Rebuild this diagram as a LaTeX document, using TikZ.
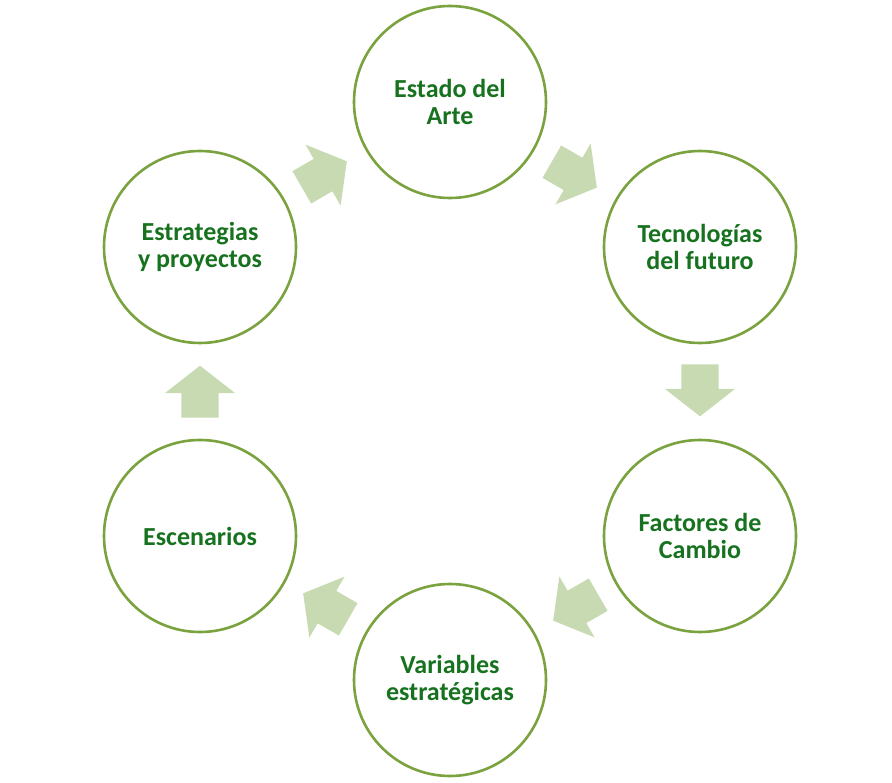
\documentclass[tikz,border=0pt]{standalone}
\usepackage{fontspec}
\setmainfont{Carlito}
\usetikzlibrary{shapes.arrows}
\definecolor{ringgreen}{RGB}{122,162,62}
\definecolor{textgreen}{RGB}{22,114,30}
\definecolor{arrowgreen}{RGB}{200,218,178}
\begin{document}
\begin{tikzpicture}[x=1pt, y=-1pt,
  stage/.style={circle, draw=ringgreen, line width=2.6pt, minimum size=192pt, inner sep=0pt,
    align=center, text=textgreen, font=\fontsize{26}{27}\selectfont\bfseries},
  flow/.style={single arrow, fill=arrowgreen, draw=none, inner xsep=0pt, inner ysep=18.5pt,
    minimum height=52pt, single arrow head extend=16.5pt,
    single arrow tip angle=104}]
\useasboundingbox (0,0) rectangle (892,783);

% the six stages of the cycle
\node[stage] (arte) at (450,102) {Estado del\\Arte};
\node[stage] (futuro) at (700,247) {Tecnologías\\del futuro};
\node[stage] (cambio) at (700,536) {Factores de\\Cambio};
\node[stage] (variables) at (450,680) {Variables\\estratégicas};
\node[stage] (escenarios) at (200,536) {Escenarios};
\node[stage] (proyectos) at (200,247) {Estrategias\\y proyectos};

% block arrows between stages
\node[flow, rotate=-30] (arteFuturo) at (568,171) {};
\node[flow, rotate=-90] (futuroCambio) at (700,383) {};
\node[flow, rotate=210] (cambioVariables) at (582,604) {};
\node[flow, rotate=150] (variablesEscenarios) at (332,610) {};
\node[flow, rotate=90] (escenariosProyectos) at (200,399) {};
\node[flow, rotate=30] (proyectosArte) at (318,178) {};
\end{tikzpicture}
\end{document}
